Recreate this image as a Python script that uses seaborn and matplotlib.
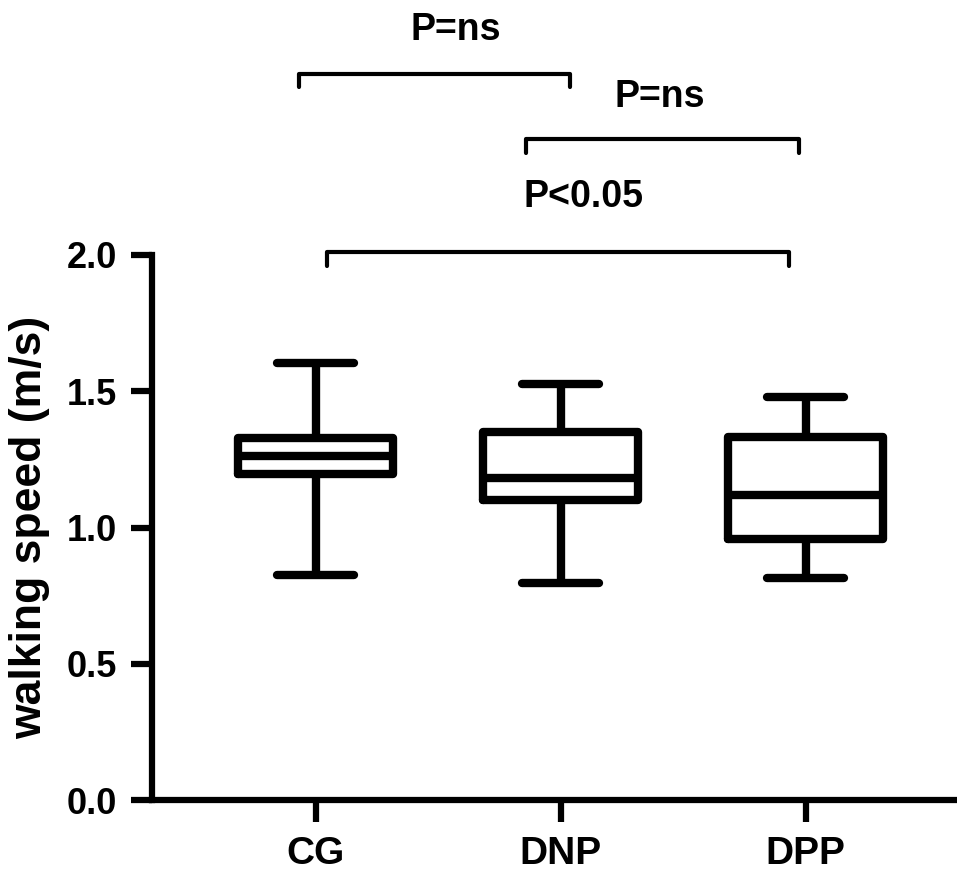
import pandas as pd
import matplotlib
matplotlib.use('Agg')
import matplotlib.pyplot as plt
import seaborn as sns

# five-number summaries (min, q1, median, q3, max)
groups = ['CG', 'DNP', 'DPP']
cg_speed = [0.826, 1.197, 1.263, 1.328, 1.602]
dnp_speed = [0.795, 1.101, 1.183, 1.349, 1.525]
dpp_speed = [0.814, 0.958, 1.120, 1.333, 1.480]

# significance brackets: (left group pos, right group pos, bar height, label)
bracket_left = [-0.068, 0.858, 0.046]
bracket_right = [1.038, 1.972, 1.931]
bracket_top = [2.666, 2.426, 2.011]
bracket_drop = 0.05
bracket_labels = ['P=ns', 'P=ns', 'P<0.05']
label_x = [0.57, 1.406, 1.093]
label_y = [2.826, 2.58, 2.213]

sns.set_style('ticks')
plt.rcParams['font.family'] = ['Liberation Sans', 'DejaVu Sans']
plt.rcParams['font.weight'] = 'bold'
plt.rcParams['axes.labelweight'] = 'bold'
plt.rcParams['text.color'] = 'black'
plt.rcParams['axes.labelcolor'] = 'black'

df = pd.DataFrame({
    'group': ['CG'] * len(cg_speed) + ['DNP'] * len(dnp_speed) + ['DPP'] * len(dpp_speed),
    'speed': cg_speed + dnp_speed + dpp_speed,
})

fig = plt.figure(figsize=(9.57, 8.71), dpi=100)
# axes run past the right edge so the x axis line reaches the border
ax = fig.add_axes([152 / 957, 71 / 871, 840 / 957, 545 / 871])

sns.boxplot(data=df, x='group', y='speed', order=groups, whis=(0, 100),
            fill=False, color='black', linewidth=6, width=0.633, ax=ax)

ax.set_xlim(-0.668, -0.668 + 840 / 245)
ax.set_ylim(0, 2.0)
ax.set_yticks([0, 0.5, 1.0, 1.5, 2.0])
ax.set_yticklabels(['0.0', '0.5', '1.0', '1.5', '2.0'])
ax.set_xlabel('')
ax.set_ylabel('walking speed (m/s)', fontsize=32, fontweight='bold', labelpad=12)

for side in ['top', 'right']:
    ax.spines[side].set_visible(False)
for side in ['left', 'bottom']:
    ax.spines[side].set_linewidth(4.5)
    ax.spines[side].set_color('black')

ax.tick_params(axis='y', length=15, width=4.5, labelsize=26, pad=10, colors='black')
ax.tick_params(axis='x', length=16, width=4.5, labelsize=28, pad=10, colors='black')
for lbl in ax.get_xticklabels() + ax.get_yticklabels():
    lbl.set_fontweight('bold')

for x0, x1, yt, lab, tx, ty in zip(bracket_left, bracket_right, bracket_top,
                                   bracket_labels, label_x, label_y):
    ax.plot([x0, x0, x1, x1], [yt - bracket_drop, yt, yt, yt - bracket_drop],
            color='black', lw=3, clip_on=False, solid_joinstyle='round')
    ax.text(tx, ty, lab, ha='center', va='center', fontsize=27,
            fontweight='bold', clip_on=False)

fig.savefig('out.png', dpi=100)
